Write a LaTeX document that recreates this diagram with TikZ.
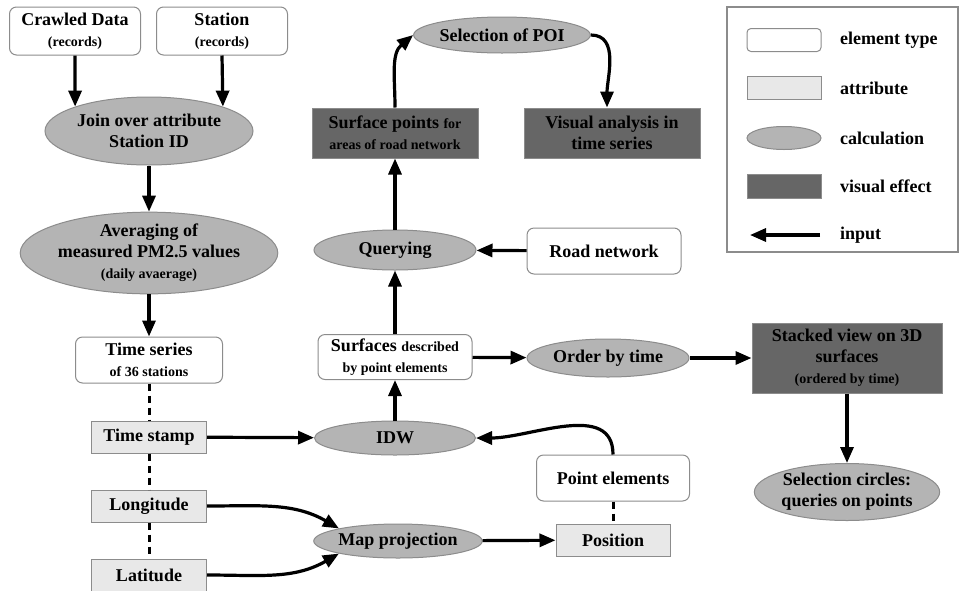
\documentclass[tikz,border=0pt]{standalone}
\usepackage{fontspec}
\setmainfont{Liberation Serif}
\usetikzlibrary{shapes.geometric,arrows.meta}

\begin{document}
\begin{tikzpicture}[x=1pt, y=-1pt,
  elem/.style={draw=framegray, fill=white, rounded corners=7pt, line width=1pt,
               inner sep=0pt, align=center, font=\mainsize\bfseries},
  attr/.style={draw=framegray, fill=attrgray, line width=1pt,
               inner sep=0pt, align=center, font=\mainsize\bfseries},
  calc/.style={ellipse, draw=framegray, fill=calcgray, line width=1pt,
               inner sep=0pt, align=center, font=\mainsize\bfseries},
  vis/.style={draw=framegray, fill=visgray, line width=1pt,
              inner sep=0pt, align=center, font=\mainsize\bfseries},
  flow/.style={line width=3.2pt, -{Triangle[length=16pt,width=13pt]}},
  link/.style={line width=3pt, dash pattern=on 7pt off 5pt},
  key/.style={anchor=west, inner sep=0pt, font=\mainsize\bfseries}]

%─────────────
% Controls
%─────────────
\definecolor{framegray}{RGB}{140,140,140}
\definecolor{attrgray}{RGB}{232,232,232}
\definecolor{calcgray}{RGB}{180,180,180}
\definecolor{visgray}{RGB}{102,102,102}
\newcommand{\mainsize}{\fontsize{18}{21}\selectfont}
\newcommand{\subsize}{\fontsize{14}{16}\selectfont}

\useasboundingbox (0,0) rectangle (961,590);

%─────────────
% Station records
%─────────────
\node[elem, minimum width=131pt, minimum height=48pt] (crawl) at (75,31)
  {Crawled Data\\{\subsize (records)}};
\node[elem, minimum width=131pt, minimum height=48pt] (station) at (222,31)
  {Station\\{\subsize (records)}};
\node[calc, minimum width=208pt, minimum height=68pt] (join) at (149,131)
  {Join over attribute\\Station ID};
\node[calc, minimum width=208pt, minimum height=70pt] (avg) at (149,253)
  {Averaging of\\measured PM2.5 values\\{\subsize (daily avaerage)}};
\node[elem, minimum width=147pt, minimum height=46pt] (series) at (149,360)
  {Time series\\{\subsize of 36 stations}};

% attributes
\node[attr, minimum width=115pt, minimum height=32pt] (stamp) at (149,437) {Time stamp};
\node[attr, minimum width=115pt, minimum height=32pt] (lon) at (149,506) {Longitude};
\node[attr, minimum width=115pt, minimum height=32pt] (lat) at (149,575) {Latitude};

%─────────────
% Interpolation
%─────────────
\node[calc, minimum width=161pt, minimum height=34pt] (idw) at (395,438) {IDW};
\node[calc, minimum width=162pt, minimum height=34pt] (proj) at (398,541) {Map projection};
\node[attr, minimum width=114pt, minimum height=32pt] (pos) at (613,540) {Position};
\node[elem, minimum width=153pt, minimum height=46pt] (points) at (613,478) {Point elements};
\node[elem, minimum width=154pt, minimum height=45pt] (surf) at (395,357)
  {Surfaces {\subsize described}\\{\subsize by point elements}};
\node[calc, minimum width=162pt, minimum height=40pt] (query) at (395,250) {Querying};
\node[elem, minimum width=154pt, minimum height=46pt] (road) at (604,251) {Road network};
\node[calc, minimum width=162pt, minimum height=38pt] (order) at (608,358) {Order by time};

%─────────────
% Visual effects
%─────────────
\node[vis, minimum width=190pt, minimum height=70pt] (stack) at (847,358)
  {Stacked view on 3D\\surfaces\\{\subsize (ordered by time)}};
\node[calc, minimum width=180pt, minimum height=57pt] (circles) at (847,492)
  {Selection circles:\\queries on points};
\node[vis, minimum width=166pt, minimum height=50pt] (surfpts) at (395,133)
  {Surface points {\subsize for}\\{\subsize areas of road network}};
\node[calc, minimum width=162pt, minimum height=36pt] (poi) at (502,35) {Selection of POI};
\node[vis, minimum width=176pt, minimum height=50pt] (visual) at (612,133)
  {Visual analysis in\\time series};

%─────────────
% Connectors
%─────────────
\draw[flow] (crawl.south) -- (join.north west);
\draw[flow] (station.south) -- (join.north east);
\draw[flow] (join) -- (avg);
\draw[flow] (avg) -- (series);
\draw[link] (series) -- (stamp);
\draw[link] (stamp) -- (lon);
\draw[link] (lon) -- (lat);
\draw[flow] (stamp) -- (idw);
\draw[flow] (lon.east) to[out=0, in=150] (proj.168);
\draw[flow] (lat.east) to[out=0, in=210] (proj.192);
\draw[flow] (proj) -- (pos);
\draw[link] (points) -- (pos);
\draw[flow] (points.north) to[out=90, in=0] (idw.east);
\draw[flow] (idw) -- (surf);
\draw[flow] (surf) -- (query);
\draw[flow] (road) -- (query);
\draw[flow] (query) -- (surfpts);
\draw[flow] (surfpts.north) to[out=90, in=220] (poi.west);
\draw[flow] (poi.east) to[out=0, in=90] ([xshift=-5pt]visual.north);
\draw[flow] (surf) -- (order);
\draw[flow] (order) -- (stack);
\draw[flow] (stack) -- (circles);

%─────────────
% Legend
%─────────────
\draw[framegray, line width=2.5pt] (727,7) rectangle (958,252);
\node[elem, rounded corners=4pt, minimum width=74pt, minimum height=23pt] (keyelem) at (784,40) {};
\node[attr, minimum width=74pt, minimum height=23pt] (keyattr) at (784,88) {};
\node[calc, minimum width=74pt, minimum height=23pt] (keycalc) at (784,138) {};
\node[vis, minimum width=74pt, minimum height=24pt] (keyvis) at (784,186) {};
\coordinate (keyfrom) at (820,235);
\coordinate (keyto) at (750,235);
\draw[flow] (keyfrom) -- (keyto);

\node[key] (lblelem) at (840,40) {element type};
\node[key] (lblattr) at (840,88) {attribute};
\node[key] (lblcalc) at (840,138) {calculation};
\node[key] (lblvis) at (840,186) {visual effect};
\node[key] (lblinput) at (840,235) {input};

\end{tikzpicture}
\end{document}
